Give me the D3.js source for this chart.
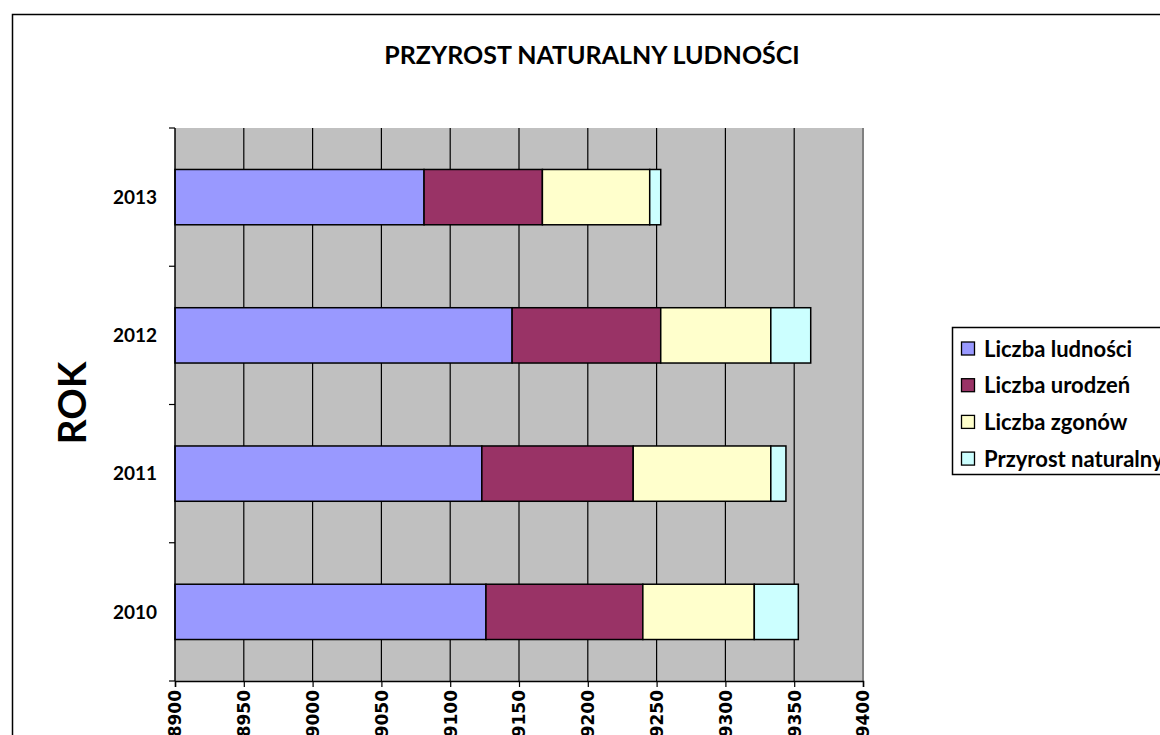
<!DOCTYPE html>
<html>
<head>
<meta charset="utf-8">
<script src="https://cdn.jsdelivr.net/npm/d3@7"></script>
<style>
  html, body { margin: 0; padding: 0; background: #fff; }
  svg { display: block; }
</style>
</head>
<body>
<svg id="chart" width="1160" height="735"></svg>
<script>
const years = ["2010", "2011", "2012", "2013"];
const seriesNames = ["Liczba ludności", "Liczba urodzeń", "Liczba zgonów", "Przyrost naturalny"];
const ludnosc = [9126, 9123, 9145, 9081];
const urodzenia = [114, 110, 108, 86];
const zgony = [81, 100, 80, 78];
const przyrost = [32, 11, 29, 8];
const xTicks = [8900, 8950, 9000, 9050, 9100, 9150, 9200, 9250, 9300, 9350, 9400];
const colors = ["#9999FF", "#993366", "#FFFFCC", "#CCFFFF"];

const svg = d3.select("#chart");
const X0 = 175, X1 = 863, Y0 = 128, Y1 = 681;

// outer chart border
svg.append("rect").attr("x", 12.5).attr("y", 14.5).attr("width", 1170).attr("height", 740)
  .attr("fill", "#fff").attr("stroke", "#000").attr("stroke-width", 1.5);

svg.append("text").attr("x", 592).attr("y", 64).attr("text-anchor", "middle")
  .attr("font-family", "Lato").attr("font-weight", "bold").attr("font-size", 25)
  .text("PRZYROST NATURALNY LUDNOŚCI");

const x = d3.scaleLinear().domain([8900, 9400]).range([X0, X1]);
const y = d3.scaleBand().domain(years.slice().reverse()).range([Y0, Y1])
  .paddingInner(0.6).paddingOuter(0.3);

// plot background
svg.append("rect").attr("x", X0).attr("y", Y0).attr("width", X1 - X0).attr("height", Y1 - Y0)
  .attr("fill", "#C0C0C0");
svg.append("line").attr("x1", X1).attr("x2", X1).attr("y1", Y0).attr("y2", Y1)
  .attr("stroke", "#808080").attr("stroke-width", 2);

// gridlines
svg.append("g").selectAll("line").data(xTicks.slice(1, -1)).join("line")
  .attr("x1", d => x(d)).attr("x2", d => x(d)).attr("y1", Y0).attr("y2", Y1)
  .attr("stroke", "#000").attr("stroke-width", 1.2);

// stacked bars
const table = years.map((yr, i) => ({ year: yr, vals: [ludnosc[i], urodzenia[i], zgony[i], przyrost[i]] }));
const gBars = svg.append("g");
table.forEach(row => {
  let start = 8900;
  row.vals.forEach((v, k) => {
    const end = k === 0 ? v : start + v;
    gBars.append("rect")
      .attr("x", x(start)).attr("width", x(end) - x(start))
      .attr("y", y(row.year)).attr("height", y.bandwidth())
      .attr("fill", colors[k]).attr("stroke", "#000").attr("stroke-width", 1.5);
    start = end;
  });
});

// x axis
const xAxis = svg.append("g").attr("transform", `translate(0,${Y1})`)
  .call(d3.axisBottom(x).tickValues(xTicks).tickSize(6).tickFormat(d3.format("d")));
xAxis.select(".domain").attr("stroke", "#000").attr("stroke-width", 1.5);
xAxis.selectAll(".tick line").attr("stroke", "#000").attr("stroke-width", 1.2);
xAxis.selectAll(".tick text")
  .attr("font-family", "DejaVu Sans").attr("font-weight", "bold").attr("font-size", 17)
  .attr("fill", "#000")
  .attr("transform", "rotate(-90)")
  .attr("text-anchor", "end").attr("x", -9).attr("y", 0).attr("dy", "0.35em");

// y axis
svg.append("line").attr("x1", X0).attr("x2", X0).attr("y1", Y0).attr("y2", Y1)
  .attr("stroke", "#000").attr("stroke-width", 1.5);
const bounds = d3.range(years.length + 1).map(i => Y0 + (Y1 - Y0) * i / years.length);
svg.append("g").selectAll("line").data(bounds).join("line")
  .attr("x1", X0 - 6).attr("x2", X0).attr("y1", d => d).attr("y2", d => d)
  .attr("stroke", "#000").attr("stroke-width", 1.2);
svg.append("g").selectAll("text").data(years).join("text")
  .attr("x", 157).attr("y", d => y(d) + y.bandwidth() / 2).attr("dy", "0.35em")
  .attr("text-anchor", "end")
  .attr("font-family", "Lato").attr("font-weight", "bold").attr("font-size", 19)
  .text(d => d);

svg.append("text").attr("transform", "translate(86,403) rotate(-90)")
  .attr("text-anchor", "middle")
  .attr("font-family", "Lato").attr("font-weight", "bold").attr("font-size", 39)
  .text("ROK");

// legend
const lg = svg.append("g");
lg.append("rect").attr("x", 952.5).attr("y", 327.5).attr("width", 240).attr("height", 147)
  .attr("fill", "#fff").attr("stroke", "#000").attr("stroke-width", 1.5);
seriesNames.forEach((name, k) => {
  const cy = 349 + k * 36.7;
  lg.append("rect").attr("x", 961.5).attr("y", cy - 7).attr("width", 13).attr("height", 13)
    .attr("fill", colors[k]).attr("stroke", "#000").attr("stroke-width", 1.3);
  lg.append("text").attr("x", 984).attr("y", cy).attr("dy", "0.35em")
    .attr("font-family", "Lato").attr("font-weight", "bold").attr("font-size", 22)
    .text(name);
});
</script>
</body>
</html>
